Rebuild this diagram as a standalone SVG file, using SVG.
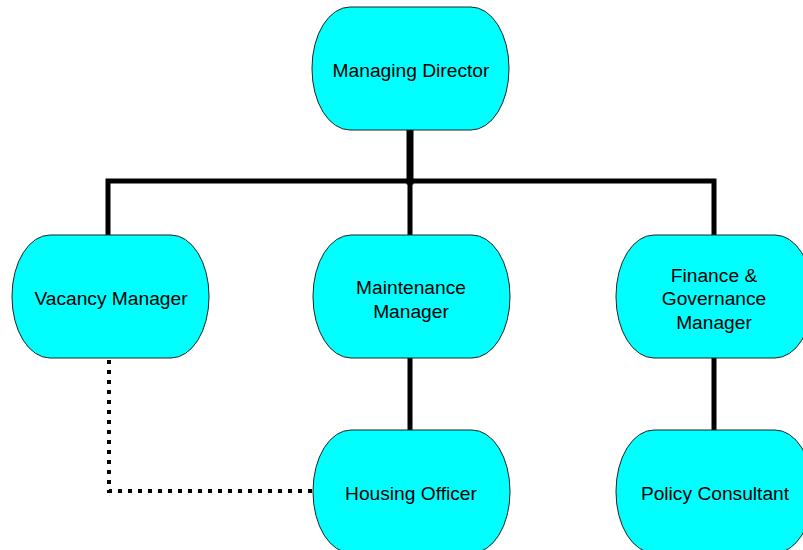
<svg xmlns="http://www.w3.org/2000/svg" width="803" height="550" viewBox="0 0 803 550">
<style>
.n{fill:#00FFFF;stroke:#222;stroke-width:1}
.t{font-family:"Liberation Sans",Arial,sans-serif;font-size:19.2px;fill:#000;text-anchor:middle}
.c{fill:none;stroke:#000;stroke-width:5;stroke-linecap:square;stroke-linejoin:miter}
.d{fill:none;stroke:#000;stroke-width:4;stroke-dasharray:4 6}
</style>
<rect width="803" height="550" fill="#fff"/>
<g id="connectors">
<line class="c" x1="410" y1="130" x2="410" y2="181" style="stroke-width:7"/>
<polyline class="c" points="108,235 108,181 714,181 714,235"/>
<line class="c" x1="410" y1="181" x2="410" y2="235"/>
<line class="c" x1="410" y1="358" x2="410" y2="430"/>
<line class="c" x1="714" y1="358" x2="714" y2="430"/>
<polyline class="d" points="109,360 109,491 312,491"/>
</g>
<g id="managing-director">
<rect class="n" x="312" y="7" width="197" height="123" rx="38" ry="61"/>
<text class="t" x="411" y="77">Managing Director</text>
</g>
<g id="vacancy-manager">
<rect class="n" x="12" y="235" width="197" height="123" rx="38" ry="61"/>
<text class="t" x="111" y="305">Vacancy Manager</text>
</g>
<g id="maintenance-manager">
<rect class="n" x="313" y="235" width="197" height="123" rx="38" ry="61"/>
<text class="t" x="411" y="294">Maintenance</text>
<text class="t" x="411" y="318">Manager</text>
</g>
<g id="finance-governance-manager">
<rect class="n" x="616" y="235" width="197" height="123" rx="38" ry="61"/>
<text class="t" x="714" y="282">Finance &amp;</text>
<text class="t" x="714" y="305">Governance</text>
<text class="t" x="714" y="329">Manager</text>
</g>
<g id="housing-officer">
<rect class="n" x="313" y="430" width="197" height="123" rx="38" ry="61"/>
<text class="t" x="411" y="500">Housing Officer</text>
</g>
<g id="policy-consultant">
<rect class="n" x="616" y="430" width="197" height="123" rx="38" ry="61"/>
<text class="t" x="715" y="500">Policy Consultant</text>
</g>
</svg>
